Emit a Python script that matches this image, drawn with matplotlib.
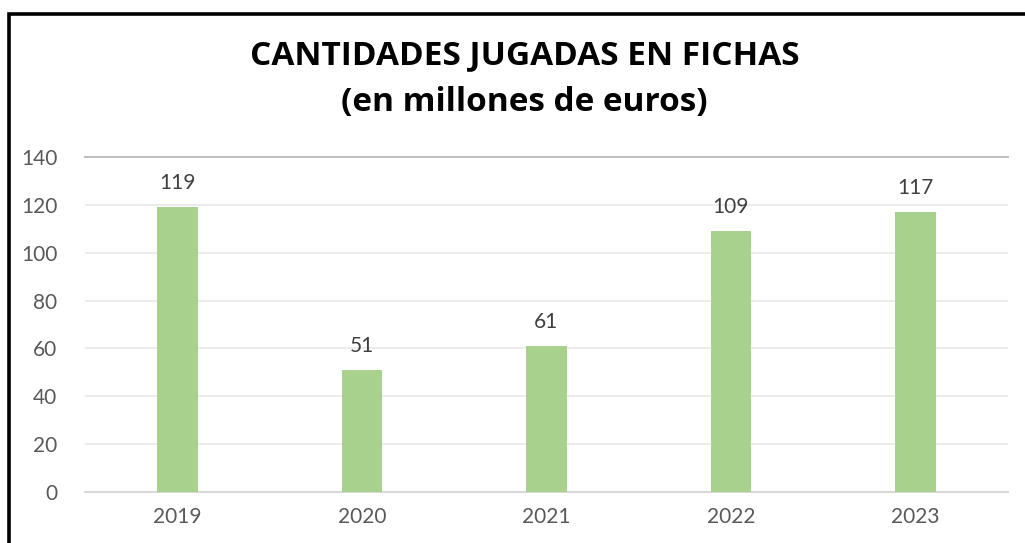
import matplotlib
matplotlib.use('Agg')
import matplotlib.pyplot as plt
from matplotlib.lines import Line2D

plt.rcParams.update({'font.family': ['Lato', 'DejaVu Sans']})

years = ['2019', '2020', '2021', '2022', '2023']
amounts = [119, 51, 61, 109, 117]
yticks = [0, 20, 40, 60, 80, 100, 120, 140]

bar_color = '#a9d18e'
text_gray = '#595959'
label_gray = '#404040'

fig = plt.figure(figsize=(10.25, 5.43), dpi=100)
ax = fig.add_axes([0.083, 0.094, 0.9, 0.617])

x = range(len(years))
ax.bar(x, amounts, width=0.22, color=bar_color, zorder=3)

for i, v in zip(x, amounts):
    ax.annotate(str(v), (i, v), xytext=(0, 10), textcoords='offset points',
                ha='center', va='bottom', fontsize=15, color=label_gray)

ax.set_xlim(-0.5, len(years) - 0.5)
ax.set_ylim(0, 140)
ax.set_yticks(yticks)
ax.set_xticks(list(x))
ax.set_xticklabels(years)
ax.tick_params(axis='both', length=0, labelsize=15, labelcolor=text_gray)
ax.tick_params(axis='y', pad=20)
ax.tick_params(axis='x', pad=11)

ax.grid(axis='y', color='#e9e9e9', linewidth=1.2, zorder=0)
for s in ['left', 'right']:
    ax.spines[s].set_visible(False)
ax.spines['top'].set_color('#c0c0c0')
ax.spines['top'].set_linewidth(1.5)
ax.spines['bottom'].set_color('#d9d9d9')
ax.spines['bottom'].set_linewidth(1.5)

fig.text(0.512, 0.855, 'CANTIDADES JUGADAS EN FICHAS\n(en millones de euros)',
         ha='center', va='center', fontsize=24, fontweight='bold',
         family=['Open Sans', 'DejaVu Sans'], color='black', linespacing=1.55)

# outer border (only top and left visible in the crop)
fig.add_artist(Line2D([0.0083, 0.0083, 1.0], [0.0, 0.9745, 0.9745],
                      transform=fig.transFigure, color='black', linewidth=2.6,
                      solid_joinstyle='miter'))

fig.savefig('out.png', dpi=100)
